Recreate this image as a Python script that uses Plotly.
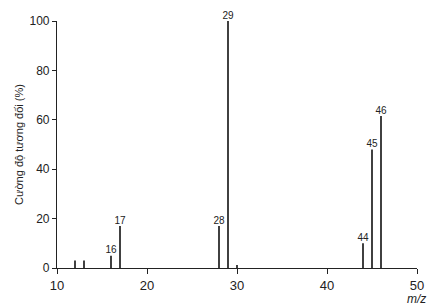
import plotly.graph_objects as go

mz = [12, 13, 16, 17, 28, 29, 30, 44, 45, 46]
intensity = [3, 3, 5, 17, 17, 100, 1.2, 10, 48, 61.5]
labeled = [16, 17, 28, 29, 44, 45, 46]
x_ticks = [10, 20, 30, 40, 50]
y_ticks = [0, 20, 40, 60, 80, 100]

xs, ys = [], []
for m, v in zip(mz, intensity):
    xs += [m, m, None]
    ys += [0, v, None]

lab_x = [m for m in mz if m in labeled]
lab_y = [v for m, v in zip(mz, intensity) if m in labeled]

fig = go.Figure()
fig.add_trace(go.Scatter(x=xs, y=ys, mode="lines",
                         line=dict(color="#111111", width=1.6),
                         hoverinfo="skip", showlegend=False))
fig.add_trace(go.Scatter(x=lab_x, y=lab_y, mode="text",
                         text=[str(m) for m in lab_x], textposition="top center",
                         textfont=dict(family="Liberation Sans, Arial", size=10, color="#222"),
                         showlegend=False, cliponaxis=False))

fig.add_annotation(x=50, y=0, xref="x", yref="y", text="<i>m/z</i>", showarrow=False,
                   yshift=-31, xshift=-1, font=dict(family="Liberation Sans, Arial", size=12, color="#222"))

fig.update_layout(
    width=440, height=308,
    margin=dict(l=57, r=23, t=21, b=40),
    paper_bgcolor="white", plot_bgcolor="white",
    font=dict(family="Liberation Sans, Arial", size=12, color="#222"),
    xaxis=dict(range=[10, 50], tickvals=x_ticks, showline=True, linecolor="#222",
               linewidth=1.2, ticks="outside", ticklen=5, tickcolor="#222",
               showgrid=False, zeroline=False, tickfont=dict(size=13)),
    yaxis=dict(range=[0, 100], tickvals=y_ticks, showline=True, linecolor="#222",
               linewidth=1.2, ticks="outside", ticklen=4, tickcolor="#222",
               showgrid=False, zeroline=False, tickfont=dict(size=12),
               title=dict(text="Cường độ tương đối (%)", font=dict(size=11), standoff=3)),
)

fig.write_html("out.html")
